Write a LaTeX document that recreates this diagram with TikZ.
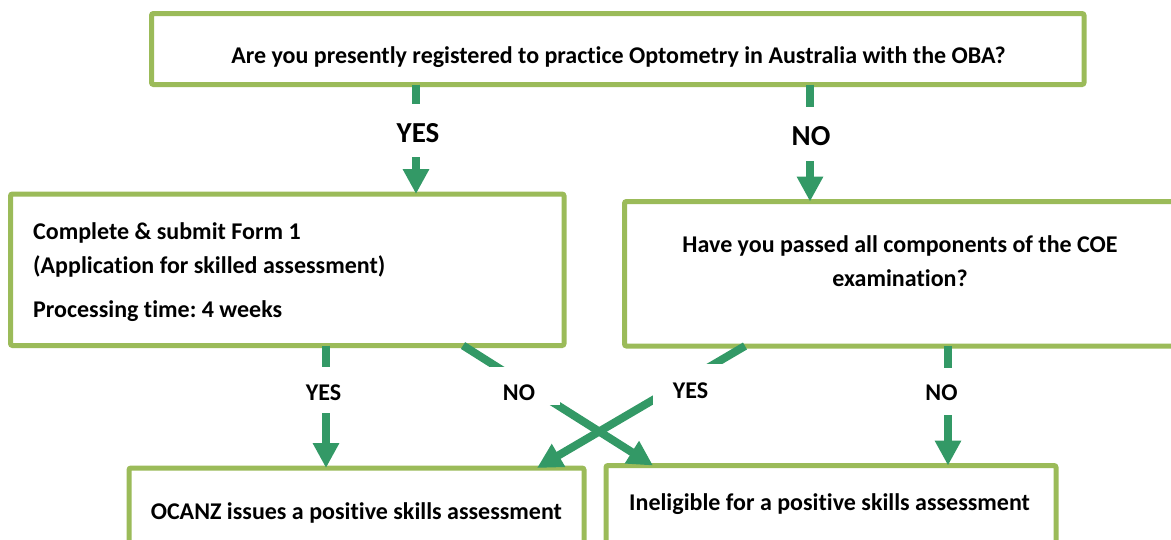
\documentclass[tikz,border=0pt]{standalone}
\usepackage{fontspec}
\setmainfont[Ligatures={NoCommon}]{Carlito}
\frenchspacing
\usetikzlibrary{arrows.meta}
\definecolor{boxgreen}{RGB}{155,187,89}
\definecolor{arrowgreen}{RGB}{51,153,102}
\begin{document}
\begin{tikzpicture}[x=1pt,y=-1pt,
  box/.style={draw=boxgreen, line width=5pt, rounded corners=2pt, outer sep=0pt, inner sep=0pt, rectangle, fill=white},
  txt/.style={font=\bfseries\fontsize{24}{28}\selectfont, inner sep=0pt, text=black},
  arr/.style={draw=arrowgreen, line width=8pt, -{Triangle[width=25pt,length=25pt]}},
  lbl/.style={fill=white, inner xsep=5pt, inner ysep=0pt, anchor=base, font=\bfseries\fontsize{24}{28}\selectfont},
  biglbl/.style={lbl, font=\bfseries\fontsize{29}{34}\selectfont}]
\useasboundingbox (0,0) rectangle (1171,539);
\clip (0,0) rectangle (1171,539);
% boxes
\node[box, minimum width=932.5pt, minimum height=71pt] (top) at (617.75,49) {};
\node[box, minimum width=553.5pt, minimum height=151.5pt] (box2l) at (287.25,269.75) {};
\node[box, minimum width=555.5pt, minimum height=144.5pt] (box2r) at (902.25,273.75) {};
\node[box, minimum width=455pt, minimum height=102pt] (box3l) at (356.5,519) {};
\node[box, minimum width=450pt, minimum height=104.5pt] (box3r) at (831,517.75) {};
% connectors
\draw[arr] ([xshift=264.5pt]top.south west) -- ([xshift=405.5pt]box2l.north west);
\draw[arr] ([xshift=658.5pt]top.south west) -- ([xshift=185.5pt]box2r.north west);
\draw[arr] ([xshift=315.5pt]box2l.south west) -- ([xshift=197pt]box3l.north west);
\draw[arr] ([xshift=323.5pt]box2r.south west) -- ([xshift=342pt]box3r.north west);
\draw[arr] ([xshift=452.5pt]box2l.south west) -- ([xshift=47pt]box3r.north west);
\draw[arr] ([xshift=120.5pt]box2r.south west) -- ([xshift=-47pt]box3l.north east);
% labels
\node[biglbl, text height=38pt, text depth=15pt] (yes1) at (418,142) {YES};
\node[biglbl, text height=38pt, text depth=16pt] (no1) at (811,145) {NO};
\node[lbl, text height=33pt, text depth=13pt] (yes2) at (323.5,400) {YES};
\node[lbl, text height=33pt, text depth=5pt, minimum width=82pt, inner xsep=0pt] (no2) at (519,400) {NO};
\node[lbl, text height=34pt, text depth=12pt, minimum width=75pt, inner xsep=0pt] (yes3) at (690.5,398) {YES};
\node[lbl, text height=32pt, text depth=15pt] (no3) at (941.5,400) {NO};
% texts
\node[txt, anchor=base] (ttop) at (618.5,63) {Are you presently registered to practice Optometry in Australia with the OBA?};
\node[txt, anchor=base west] (t2a) at (33,239) {Complete \& submit Form 1};
\node[txt, anchor=base west] (t2b) at (33,273) {(Application for skilled assessment)};
\node[txt, anchor=base west] (t2c) at (33,317) {Processing time: 4 weeks};
\node[txt, anchor=base] (t3a) at (900,252) {Have you passed all components of the COE};
\node[txt, anchor=base] (t3b) at (900,286) {examination?};
\node[txt, anchor=base west] (t4) at (150.6,519) {OCANZ issues a positive skills assessment};
\node[txt, anchor=base west] (t5) at (629,510) {Ineligible for a positive skills assessment};
\end{tikzpicture}
\end{document}
